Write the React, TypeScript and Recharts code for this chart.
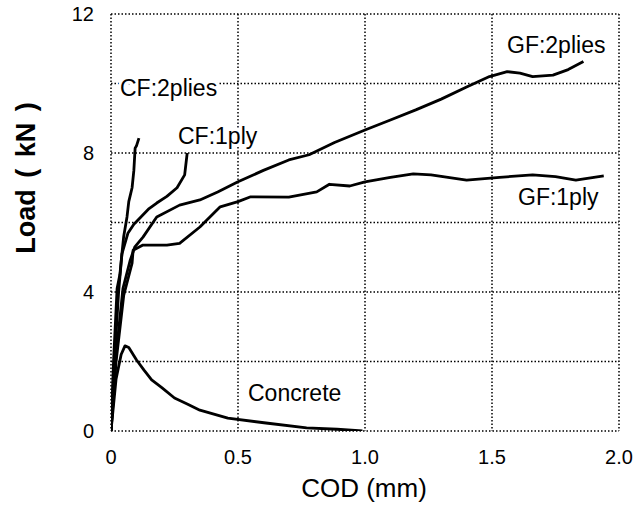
import { CartesianGrid, Customized, Line, LineChart, XAxis, YAxis } from "recharts";

// crack opening displacement (mm) vs. load (kN) for each specimen
const concreteCod = [0, 0.02, 0.04, 0.055, 0.07, 0.1, 0.13, 0.16, 0.2, 0.25, 0.3, 0.35, 0.46, 0.61, 0.77, 0.89, 0.99];
const concreteLoad = [0, 1.5, 2.2, 2.45, 2.4, 2.05, 1.75, 1.47, 1.25, 0.95, 0.78, 0.6, 0.37, 0.23, 0.09, 0.05, 0];

const cf2Cod = [0, 0.01, 0.024, 0.035, 0.043, 0.05, 0.063, 0.07, 0.083, 0.09, 0.095, 0.1, 0.11];
const cf2Load = [0, 2.0, 4.1, 4.5, 5.1, 5.6, 6.16, 6.6, 7.0, 7.5, 8.14, 8.2, 8.43];

const cf1Cod = [0, 0.015, 0.03, 0.043, 0.067, 0.09, 0.114, 0.15, 0.18, 0.22, 0.26, 0.29, 0.3];
const cf1Load = [0, 2.2, 4.0, 5.1, 5.7, 5.95, 6.13, 6.4, 6.56, 6.75, 7.0, 7.37, 8.0];

const gf2Cod = [0, 0.02, 0.047, 0.075, 0.094, 0.126, 0.18, 0.27, 0.35, 0.42, 0.5, 0.6, 0.7, 0.78, 0.88, 1.0, 1.1, 1.2, 1.3, 1.4, 1.49, 1.56, 1.61, 1.66, 1.74, 1.8, 1.86];
const gf2Load = [0, 2.2, 4.1, 4.9, 5.3, 5.58, 6.16, 6.5, 6.65, 6.88, 7.17, 7.5, 7.8, 7.95, 8.3, 8.66, 8.95, 9.24, 9.55, 9.9, 10.2, 10.34, 10.3, 10.2, 10.24, 10.4, 10.63];

const gf1Cod = [0, 0.02, 0.05, 0.083, 0.087, 0.126, 0.22, 0.27, 0.35, 0.43, 0.5, 0.55, 0.7, 0.81, 0.86, 0.94, 1.0, 1.1, 1.19, 1.26, 1.4, 1.53, 1.66, 1.75, 1.83, 1.94];
const gf1Load = [0, 2.0, 3.9, 4.83, 5.2, 5.35, 5.35, 5.4, 5.87, 6.45, 6.6, 6.74, 6.73, 6.88, 7.1, 7.05, 7.17, 7.3, 7.4, 7.37, 7.22, 7.3, 7.37, 7.32, 7.22, 7.34];

const codTicks = [0, 0.5, 1, 1.5, 2];
const codTickLabels = ["0", "0.5", "1.0", "1.5", "2.0"];
const loadTicks = [0, 2, 4, 6, 8, 10, 12];
const loadTickLabels = ["0", "", "4", "", "8", "", "12"];

const FONT = "'Liberation Sans', Arial, Helvetica, sans-serif";

const toPoints = (cod: number[], load: number[]) => cod.map((c, i) => ({ cod: c, load: load[i] }));

const series = [
  { name: "Concrete", data: toPoints(concreteCod, concreteLoad) },
  { name: "CF:2plies", data: toPoints(cf2Cod, cf2Load) },
  { name: "CF:1ply", data: toPoints(cf1Cod, cf1Load) },
  { name: "GF:2plies", data: toPoints(gf2Cod, gf2Load) },
  { name: "GF:1ply", data: toPoints(gf1Cod, gf1Load) },
];

// curve names written beside each line, with a white halo over the grid
const curveLabels = [
  { text: "CF:2plies", x: 120, y: 96 },
  { text: "CF:1ply", x: 178, y: 144 },
  { text: "GF:2plies", x: 507, y: 53 },
  { text: "GF:1ply", x: 518, y: 205 },
  { text: "Concrete", x: 248, y: 401 },
];

function CurveLabels() {
  return (
    <g>
      {curveLabels.map((l) => (
        <text
          key={l.text}
          x={l.x}
          y={l.y}
          fontFamily={FONT}
          fontSize={23}
          fill="#000"
          stroke="#fff"
          strokeWidth={6}
          paintOrder="stroke"
        >
          {l.text}
        </text>
      ))}
      <text x={364} y={497} textAnchor="middle" fontFamily={FONT} fontSize={26} fill="#000">
        COD (mm)
      </text>
      <text
        x={35}
        y={178}
        transform="rotate(-90 35 178)"
        textAnchor="middle"
        fontFamily={FONT}
        fontSize={27}
        fontWeight="bold"
        fill="#000"
        wordSpacing={4}
      >
        Load ( kN )
      </text>
    </g>
  );
}

function CodTick({ x, y, payload }: any) {
  const i = codTicks.indexOf(payload.value);
  return (
    <text x={x} y={y} dy={33} textAnchor="middle" fontFamily={FONT} fontSize={20} fill="#000">
      {codTickLabels[i]}
    </text>
  );
}

function LoadTick({ x, y, payload }: any) {
  const i = loadTicks.indexOf(payload.value);
  return (
    <text x={x - 17} y={y} dy={7} textAnchor="end" fontFamily={FONT} fontSize={20} fill="#000">
      {loadTickLabels[i]}
    </text>
  );
}

export default function App() {
  return (
    <div style={{ position: "absolute", left: 0, top: 0, width: 638, height: 509, background: "#fff" }}>
      <LineChart width={638} height={509} margin={{ top: 14, right: 19, bottom: 0, left: 0 }}>
        <CartesianGrid stroke="#000" strokeWidth={1.5} strokeDasharray="1.5 2" />
        <XAxis
          type="number"
          dataKey="cod"
          domain={[0, 2]}
          ticks={codTicks}
          height={78}
          axisLine={false}
          tickLine={false}
          tickSize={0}
          tickMargin={0}
          tick={<CodTick />}
          allowDataOverflow
        />
        <YAxis
          type="number"
          dataKey="load"
          domain={[0, 12]}
          ticks={loadTicks}
          width={111}
          axisLine={false}
          tickLine={false}
          tickSize={0}
          tickMargin={0}
          tick={<LoadTick />}
          allowDataOverflow
        />
        {series.map((s) => (
          <Line
            key={s.name}
            data={s.data}
            dataKey="load"
            type="linear"
            stroke="#000"
            strokeWidth={2.8}
            strokeLinejoin="round"
            dot={false}
            isAnimationActive={false}
          />
        ))}
        <Customized component={CurveLabels} />
      </LineChart>
    </div>
  );
}
